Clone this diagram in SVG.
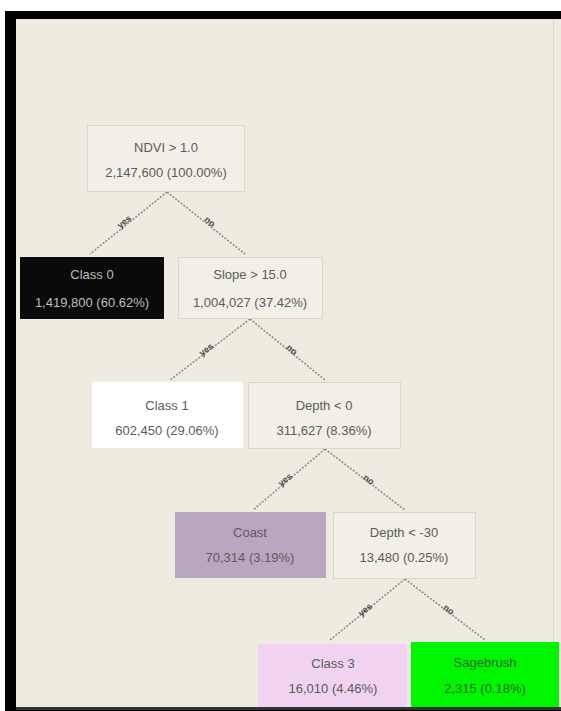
<svg xmlns="http://www.w3.org/2000/svg" width="561" height="711" viewBox="0 0 561 711">
<style>
.bg{fill:#EEEBE0}
.box{fill:#F1EFE6;stroke:#DAD7CC;stroke-width:1}
.t{font-family:"Liberation Sans",Arial,sans-serif;font-size:13px;fill:#5c5c5c;text-anchor:middle}
.lbl{font-family:"Liberation Sans",Arial,sans-serif;font-size:9px;font-weight:bold;fill:#4a4a4a;text-anchor:middle}
.edge{stroke:#8f8f8a;stroke-width:1.6;fill:none;stroke-dasharray:2 1.5}
</style>
<rect x="0" y="0" width="561" height="711" fill="#FFFFFF"/>
<rect x="5" y="11" width="556" height="700" fill="#000000"/>
<rect x="16" y="19" width="545" height="688" class="bg"/>
<line x1="553.5" y1="19" x2="553.5" y2="707" stroke="#D8D6CE" stroke-width="1"/>
<line x1="16" y1="708.5" x2="561" y2="708.5" stroke="#333" stroke-width="3"/>
<g id="connectors">
<line class="edge" x1="167" y1="192" x2="90" y2="254"/>
<line class="edge" x1="167" y1="192" x2="245" y2="254"/>
<line class="edge" x1="250" y1="319" x2="170" y2="380"/>
<line class="edge" x1="250" y1="319" x2="325" y2="380"/>
<line class="edge" x1="325" y1="449" x2="253" y2="510"/>
<line class="edge" x1="325" y1="449" x2="405" y2="510"/>
<line class="edge" x1="405" y1="579" x2="330" y2="640"/>
<line class="edge" x1="405" y1="579" x2="485" y2="640"/>
<text class="lbl" transform="translate(126,224) rotate(-39)">yes</text>
<text class="lbl" transform="translate(208,224) rotate(39)">no</text>
<text class="lbl" transform="translate(208,352) rotate(-37)">yes</text>
<text class="lbl" transform="translate(290,352) rotate(39)">no</text>
<text class="lbl" transform="translate(287,482) rotate(-40)">yes</text>
<text class="lbl" transform="translate(367,482) rotate(37)">no</text>
<text class="lbl" transform="translate(367,612) rotate(-39)">yes</text>
<text class="lbl" transform="translate(447,612) rotate(37)">no</text>
</g>
<g id="n_root">
<rect class="box" x="87.5" y="125.5" width="157" height="66"/>
<text class="t" x="166" y="152">NDVI &gt; 1.0</text>
<text class="t" x="166" y="177">2,147,600 (100.00%)</text>
</g>
<g id="n_class0">
<rect x="20" y="257" width="144" height="62" fill="#0A0A0A"/>
<text class="t" x="92" y="279" style="fill:#BDBDBD">Class 0</text>
<text class="t" x="92" y="307" style="fill:#BDBDBD">1,419,800 (60.62%)</text>
</g>
<g id="n_slope">
<rect class="box" x="178.5" y="257.5" width="144" height="61"/>
<text class="t" x="250" y="279">Slope &gt; 15.0</text>
<text class="t" x="250" y="307">1,004,027 (37.42%)</text>
</g>
<g id="n_class1">
<rect x="92" y="382" width="151" height="66" fill="#FFFFFF"/>
<text class="t" x="167" y="410">Class 1</text>
<text class="t" x="167" y="435">602,450 (29.06%)</text>
</g>
<g id="n_depth0">
<rect class="box" x="248.5" y="382.5" width="152" height="66"/>
<text class="t" x="324" y="410">Depth &lt; 0</text>
<text class="t" x="324" y="435">311,627 (8.36%)</text>
</g>
<g id="n_class4">
<rect x="175" y="512" width="151" height="66" fill="#B9A6C0"/>
<text class="t" x="250" y="537">Coast</text>
<text class="t" x="250" y="562">70,314 (3.19%)</text>
</g>
<g id="n_depth30">
<rect class="box" x="333.5" y="512.5" width="142" height="66"/>
<text class="t" x="404" y="537">Depth &lt; -30</text>
<text class="t" x="404" y="562">13,480 (0.25%)</text>
</g>
<g id="n_class3">
<rect x="258" y="644" width="149" height="63" fill="#F1D2F0"/>
<text class="t" x="333" y="668">Class 3</text>
<text class="t" x="333" y="693">16,010 (4.46%)</text>
</g>
<g id="n_sage">
<rect x="411" y="642" width="148" height="65" fill="#00F500"/>
<text class="t" x="485" y="667" style="fill:#2F6A2F">Sagebrush</text>
<text class="t" x="485" y="693" style="fill:#2F6A2F">2,315 (0.18%)</text>
</g>
</svg>
